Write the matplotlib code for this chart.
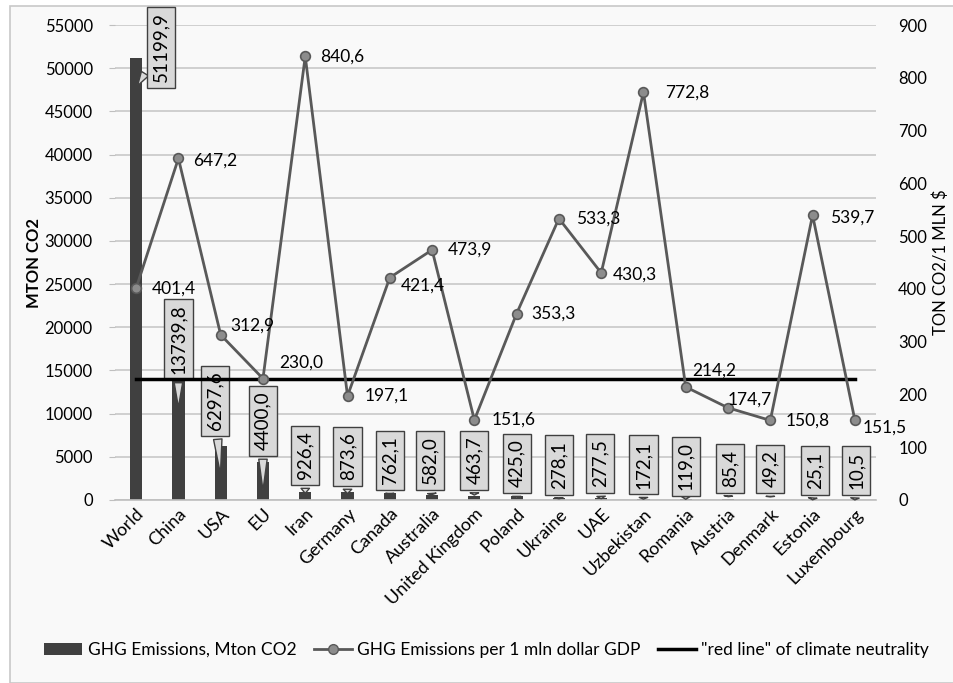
import numpy as np
import matplotlib
matplotlib.use("Agg")
import matplotlib.pyplot as plt
from matplotlib.patches import Rectangle
from matplotlib.lines import Line2D
from matplotlib.patches import Patch

plt.rcParams['font.family'] = ['Lato', 'DejaVu Sans']

countries = ["World", "China", "USA", "EU", "Iran", "Germany", "Canada", "Australia",
             "United Kingdom", "Poland", "Ukraine", "UAE", "Uzbekistan", "Romania",
             "Austria", "Denmark", "Estonia", "Luxembourg"]
emissions = [51199.9, 13739.8, 6297.6, 4400.0, 926.4, 873.6, 762.1, 582.0, 463.7,
             425.0, 278.1, 277.5, 172.1, 119.0, 85.4, 49.2, 25.1, 10.5]
per_gdp = [401.4, 647.2, 312.9, 230.0, 840.6, 197.1, 421.4, 473.9, 151.6, 353.3,
           533.3, 430.3, 772.8, 214.2, 174.7, 150.8, 539.7, 151.5]
red_line = [230.0] * len(countries)

# callout boxes for bars: (box x shift, box y, pointer tip y) in left-axis units
callouts = [(0.59, 52400, 47700), (0.0, 18640, 10400), (-0.14, 11460, 2700),
            (0.0, 9150, 800), (0.0, 5150, 450), (0.0, 5040, 420), (0.0, 4570, 380),
            (-0.05, 4570, 300), (0.0, 4630, 250), (0.0, 4230, 230), (0.0, 4050, 150),
            (-0.03, 4230, 150), (0.0, 4110, 100), (0.0, 3880, 80), (0.05, 3650, 60),
            (0.0, 3590, 40), (0.05, 3420, 20), (0.03, 3420, 10)]
# label offsets for the line (px right, px up)
line_offsets = [(16, 0), (15, -2), (10, 9), (16, 16), (15, 0), (17, 0), (11, -8),
                (16, 0), (17, 0), (15, 0), (17, 0), (12, -2), (22, 0), (6, 16),
                (0, 8), (15, 0), (17, -2), (8, -8)]

fig = plt.figure(figsize=(9.54, 6.83), dpi=100)
fig.patch.set_facecolor('white')
fig.patches.append(Rectangle((10 / 954, 0), 1, 1 - 6 / 683, transform=fig.transFigure,
                             facecolor='#f9f9f9', edgecolor='#c8c8c8', lw=1.2, zorder=-10))

ax = fig.add_axes([115 / 954, 1 - 500 / 683, 761 / 954, 475 / 683])
ax.set_facecolor('none')
x = np.arange(len(countries))

ax.bar(x, emissions, width=0.29, color='#404040', zorder=2)
ax.set_xlim(-0.5, len(countries) - 0.5)
ax.set_ylim(0, 55000)
ax.set_yticks(np.arange(0, 55001, 5000))
ax.yaxis.grid(True, color='#c8c8c8', lw=1.2)
ax.set_axisbelow(True)
for s in ['top', 'right', 'left']:
    ax.spines[s].set_visible(False)
ax.spines['bottom'].set_color('#bfbfbf')
ax.spines['bottom'].set_linewidth(1.2)
ax.tick_params(axis='y', length=4, color='#bfbfbf', labelsize=12, pad=12)
ax.tick_params(axis='x', length=0, labelsize=13, pad=4)
ax.set_xticks(x)
ax.set_xticklabels(countries, rotation=45, ha='right', rotation_mode='anchor')
ax.set_ylabel("MTON CO2", fontsize=12, fontweight='bold', labelpad=2)

for i, v in enumerate(emissions):
    bx, by, tip = callouts[i]
    ax.annotate(f"{v:.1f}".replace('.', ','), xy=(i, tip), xytext=(i + bx, by),
                rotation=90, ha='center', va='center', fontsize=13.5, zorder=6,
                bbox=dict(boxstyle='square,pad=0.3', fc='#d9d9d9', ec='#404040', lw=1),
                arrowprops=dict(arrowstyle='wedge,tail_width=0.45,shrink_factor=0.5',
                                fc='#d9d9d9', ec='#404040', lw=1))

ax2 = ax.twinx()
ax2.set_ylim(0, 900)
ax2.set_yticks(np.arange(0, 901, 100))
for s in ['top', 'right', 'left', 'bottom']:
    ax2.spines[s].set_visible(False)
ax2.tick_params(axis='y', length=0, labelsize=12, pad=16)
ax2.set_ylabel("TON CO2/1 MLN $", fontsize=12, labelpad=4)

ax2.plot(x, red_line, color='black', lw=2.5, zorder=3)
ax2.plot(x, per_gdp, color='#595959', lw=2, marker='o', markersize=7,
         markerfacecolor='#8c8c8c', markeredgecolor='#595959', markeredgewidth=1.2, zorder=4)

for i, v in enumerate(per_gdp):
    dx, dy = line_offsets[i]
    ax2.annotate(f"{v:.1f}".replace('.', ','), xy=(i, v),
                 xytext=(dx * 0.72, dy * 0.72), textcoords='offset points',
                 ha='left', va='center', fontsize=12.5, zorder=5)

handles = [Patch(facecolor='#404040'),
           Line2D([], [], color='#595959', lw=2, marker='o', markersize=7,
                  markerfacecolor='#8c8c8c', markeredgecolor='#595959'),
           Line2D([], [], color='black', lw=2.5)]
labels = ["GHG Emissions, Mton CO2", "GHG Emissions per 1 mln dollar GDP",
          "\"red line\" of climate neutrality"]
fig.legend(handles, labels, loc='center', bbox_to_anchor=(0.51, 1 - 650 / 683), ncol=3,
           frameon=False, fontsize=12.5, handlelength=2.2, columnspacing=1.0, handletextpad=0.3)

fig.savefig("out.png", dpi=100, facecolor=fig.get_facecolor())
